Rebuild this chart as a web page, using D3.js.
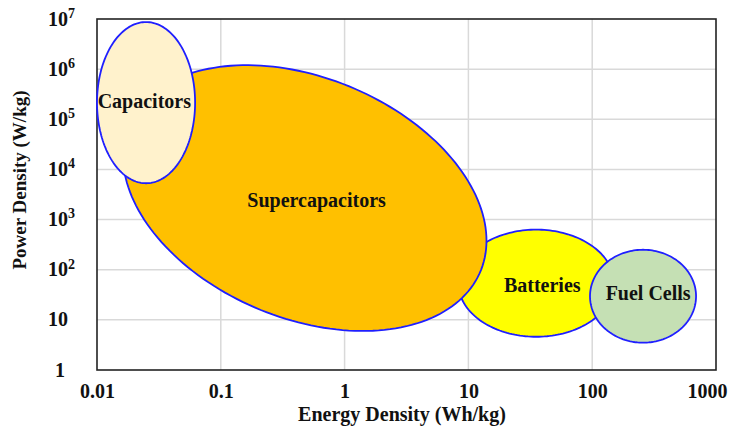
<!DOCTYPE html>
<html>
<head>
<meta charset="utf-8">
<script src="https://cdn.jsdelivr.net/npm/d3@7"></script>
<style>
  body { margin: 0; background: #fff; }
  text { font-family: "Liberation Serif", "Times New Roman", serif; font-weight: bold; fill: #111; }
</style>
</head>
<body>
<svg id="chart" width="729" height="432"></svg>
<script>
// Ragone plot: each technology is a region in energy/power space
// drawn in back-to-front order
const technologies = ["Batteries", "Supercapacitors", "Capacitors", "Fuel Cells"];
const energyMin = [8.3, 0.0162, 0.01, 96];     // Wh/kg
const energyMax = [150, 14, 0.062, 690];
const powerMin = [4.6, 6, 5300, 3.5];          // W/kg
const powerMax = [630, 1.2e6, 8.7e6, 250];
const tilt = [0, -0.32, 0, 0];                 // correlation of log energy vs log power
const labelEnergy = [39.5, 0.594, 0.0241, 283];
const labelPower = [48, 2400, 2.3e5, 34];
const fills = ["#ffff00", "#ffc000", "#fff2cc", "#c5e0b4"];

const xTicks = [0.01, 0.1, 1, 10, 100, 1000];
const xTickLabels = ["0.01", "0.1", "1", "10", "100", "1000"];
const yTicks = [1, 10, 1e2, 1e3, 1e4, 1e5, 1e6, 1e7];

const W = 729, H = 432;
const margin = {top: 19, right: 13, bottom: 62, left: 97};
const width = W - margin.left - margin.right;
const height = H - margin.top - margin.bottom;

const svg = d3.select("svg#chart");
const g = svg.append("g").attr("transform", translate(margin.left, margin.top));

const x = d3.scaleLog().domain([0.01, 1000]).range([0, width]);
const y = d3.scaleLog().domain([1, 1e7]).range([height, 0]);

// grid
g.append("g").selectAll("line.vgrid")
  .data(xTicks.slice(1, -1)).enter().append("line")
  .attr("class", "vgrid")
  .attr("x1", d => x(d)).attr("x2", d => x(d))
  .attr("y1", 0).attr("y2", height)
  .attr("stroke", "#d9d9d9").attr("stroke-width", 1.5);
g.append("g").selectAll("line.hgrid")
  .data(yTicks.slice(1, -1)).enter().append("line")
  .attr("class", "hgrid")
  .attr("y1", d => y(d)).attr("y2", d => y(d))
  .attr("x1", 0).attr("x2", width)
  .attr("stroke", "#d9d9d9").attr("stroke-width", 1.5);

// frame
g.append("rect").attr("width", width).attr("height", height)
  .attr("fill", "none").attr("stroke", "#222").attr("stroke-width", 1.6);

// regions
const regions = technologies.map((name, i) => ({
  name: name,
  lx0: Math.log10(energyMin[i]), lx1: Math.log10(energyMax[i]),
  ly0: Math.log10(powerMin[i]), ly1: Math.log10(powerMax[i]),
  r: tilt[i], fill: fills[i],
  le: labelEnergy[i], lp: labelPower[i]
}));

const line = d3.line().curve(d3.curveLinearClosed);

function ellipsePoints(d) {
  const cx = (d.lx0 + d.lx1) / 2, hx = (d.lx1 - d.lx0) / 2;
  const cy = (d.ly0 + d.ly1) / 2, hy = (d.ly1 - d.ly0) / 2;
  const s = Math.sqrt(1 - d.r * d.r);
  return d3.range(0, 2 * Math.PI, Math.PI / 90).map(t => {
    const lx = cx + hx * Math.cos(t);
    const ly = cy + hy * (d.r * Math.cos(t) + s * Math.sin(t));
    return [x(Math.pow(10, lx)), y(Math.pow(10, ly))];
  });
}

const region = g.append("g").selectAll("g.region")
  .data(regions).enter().append("g").attr("class", "region");

region.append("path")
  .attr("d", d => line(ellipsePoints(d)))
  .attr("fill", d => d.fill)
  .attr("stroke", "#1f1fff")
  .attr("stroke-width", 1.8);

region.append("text")
  .attr("x", d => x(d.le)).attr("y", d => y(d.lp))
  .attr("dy", "0.33em")
  .attr("text-anchor", "middle")
  .attr("font-size", 20)
  .text(d => d.name);

// x axis
const xAxis = g.append("g").attr("transform", translate(0, height))
  .call(d3.axisBottom(x).tickValues(xTicks).tickSize(0).tickPadding(14)
    .tickFormat((d, i) => xTickLabels[i]));
xAxis.select(".domain").remove();
xAxis.selectAll("text").attr("font-size", 20).attr("font-family", null).style("fill", "#111");
// last label pulled inside the page edge
xAxis.selectAll(".tick").filter(d => d === 1000).select("text")
  .attr("text-anchor", "end").attr("x", 11);

// y axis with superscript powers
const yAxis = g.append("g")
  .call(d3.axisLeft(y).tickValues(yTicks).tickSize(0).tickFormat(""));
yAxis.select(".domain").remove();
yAxis.selectAll(".tick text").each(function(d) {
  const t = d3.select(this).attr("font-size", 20).attr("font-family", null)
    .style("fill", "#111").attr("dy", "0.3em");
  const e = Math.round(Math.log10(d));
  if (e === 0) {
    t.attr("text-anchor", "middle").attr("x", -37).text("1");
  } else if (e === 1) {
    t.attr("text-anchor", "start").attr("x", -49).text("10");
  } else {
    t.attr("text-anchor", "start").attr("x", -49);
    t.append("tspan").text("10");
    t.append("tspan").attr("font-size", 14).attr("dy", "-0.55em").text(e);
  }
});

// axis titles
svg.append("text")
  .attr("transform", translate(26, 180) + " rotate(-90)")
  .attr("text-anchor", "middle").attr("font-size", 19)
  .text("Power Density (W/kg)");
svg.append("text")
  .attr("x", 402).attr("y", 421)
  .attr("text-anchor", "middle").attr("font-size", 20)
  .text("Energy Density (Wh/kg)");

function translate(x, y) {
  return "translate(" + String(x) + "," + String(y) + ")";
}
</script>
</body>
</html>
